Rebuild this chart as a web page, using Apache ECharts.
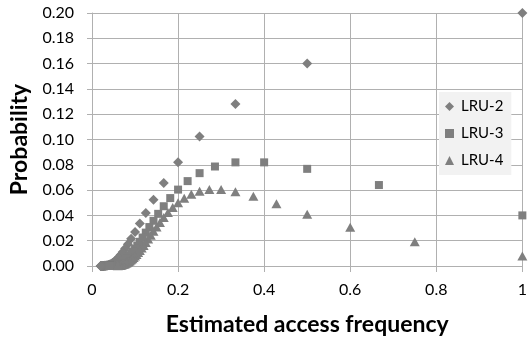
<!DOCTYPE html>
<html>
<head>
<meta charset="utf-8">
<script src="https://cdn.jsdelivr.net/npm/echarts@6/dist/echarts.min.js"></script>
<style>
html,body{margin:0;padding:0;background:#fff;}
#chart{width:530px;height:341px;}
</style>
</head>
<body>
<div id="chart"></div>
<script>
var seriesNames = ['LRU-2', 'LRU-3', 'LRU-4'];
var xTicks = ['0', '0.2', '0.4', '0.6', '0.8', '1'];
var yTicks = ['0.00','0.02','0.04','0.06','0.08','0.10','0.12','0.14','0.16','0.18','0.20'];

var lru2X = [1, 0.5, 0.3333, 0.25, 0.2, 0.1667, 0.1429, 0.125, 0.1111, 0.1,
  0.0909, 0.0833, 0.0769, 0.0714, 0.0667, 0.0625, 0.0588, 0.0556, 0.0526, 0.05,
  0.0476, 0.0455, 0.0435, 0.0417, 0.04, 0.0385, 0.037, 0.0357, 0.0345, 0.0333,
  0.0323, 0.0313, 0.0303, 0.0294, 0.0286, 0.0278, 0.027, 0.0263, 0.0256, 0.025,
  0.0244, 0.0238, 0.0233, 0.0227, 0.0222, 0.0217, 0.0213, 0.0208, 0.0204, 0.02];
var lru2Y = [0.2, 0.16, 0.128, 0.1024, 0.08192, 0.065536, 0.052429, 0.041943, 0.033554, 0.026844,
  0.021475, 0.01718, 0.013744, 0.010995, 0.008796, 0.007037, 0.005629, 0.004504, 0.003603, 0.002882,
  0.002306, 0.001845, 0.001476, 0.001181, 0.000944, 0.000756, 0.000604, 0.000484, 0.000387, 0.00031,
  0.000248, 0.000198, 0.000158, 0.000127, 0.000101, 0.000081, 0.000065, 0.000052, 0.000042, 0.000033,
  0.000027, 0.000021, 0.000017, 0.000014, 0.000011, 0.000009, 0.000007, 0.000006, 0.000005, 0.000004];

var lru3X = [1, 0.6667, 0.5, 0.4, 0.3333, 0.2857, 0.25, 0.2222, 0.2, 0.1818,
  0.1667, 0.1538, 0.1429, 0.1333, 0.125, 0.1176, 0.1111, 0.1053, 0.1, 0.0952,
  0.0909, 0.087, 0.0833, 0.08, 0.0769, 0.0741, 0.0714, 0.069, 0.0667, 0.0645,
  0.0625, 0.0606, 0.0588, 0.0571, 0.0556, 0.0541, 0.0526, 0.0513, 0.05, 0.0488,
  0.0476, 0.0465, 0.0455, 0.0444, 0.0435, 0.0426, 0.0417, 0.0408, 0.04];
var lru3Y = [0.04, 0.064, 0.0768, 0.08192, 0.08192, 0.078643, 0.0734, 0.067109, 0.060398, 0.053687,
  0.047245, 0.041232, 0.035734, 0.030786, 0.026388, 0.022518, 0.01914, 0.016213, 0.013691, 0.011529,
  0.009685, 0.008117, 0.006788, 0.005667, 0.004722, 0.003929, 0.003264, 0.002708, 0.002244, 0.001857,
  0.001535, 0.001268, 0.001046, 0.000862, 0.00071, 0.000584, 0.00048, 0.000395, 0.000324, 0.000266,
  0.000218, 0.000179, 0.000146, 0.00012, 0.000098, 0.00008, 0.000065, 0.000053, 0.000043];

var lru4X = [1, 0.75, 0.6, 0.5, 0.4286, 0.375, 0.3333, 0.3, 0.2727, 0.25,
  0.2308, 0.2143, 0.2, 0.1875, 0.1765, 0.1667, 0.1579, 0.15, 0.1429, 0.1364,
  0.1304, 0.125, 0.12, 0.1154, 0.1111, 0.1071, 0.1034, 0.1, 0.0968, 0.0938,
  0.0909, 0.0882, 0.0857, 0.0833, 0.0811, 0.0789, 0.0769, 0.075, 0.0732, 0.0714,
  0.0698, 0.0682, 0.0667, 0.0652, 0.0638, 0.0625, 0.0612, 0.06];
var lru4Y = [0.008, 0.0192, 0.03072, 0.04096, 0.049152, 0.05505, 0.05872, 0.060398, 0.060398, 0.059056,
  0.056694, 0.053601, 0.050028, 0.04618, 0.042221, 0.03828, 0.034452, 0.030805, 0.027382, 0.024212,
  0.021305, 0.018668, 0.016293, 0.014167, 0.012277, 0.010609, 0.009139, 0.007853, 0.006731, 0.005756,
  0.004912, 0.004182, 0.003556, 0.003017, 0.002556, 0.002161, 0.001825, 0.001539, 0.001296, 0.00109,
  0.000916, 0.000768, 0.000644, 0.00054, 0.000452, 0.000378, 0.000316, 0.000264];

function zip(xs, ys) {
  var out = [];
  for (var i = 0; i < xs.length; i++) out.push([xs[i], ys[i]]);
  return out;
}

var markerColor = '#7f7f7f';
var gridColor = '#b0b0b0';
var fontFam = 'Lato, "Open Sans", sans-serif';

var chart = echarts.init(document.getElementById('chart'), null, {renderer: 'canvas'});
chart.setOption({
  animation: false,
  backgroundColor: '#ffffff',
  grid: {left: 92, right: 2, top: 13, bottom: 74, containLabel: false},
  legend: {
    orient: 'vertical',
    left: 439,
    top: 92,
    backgroundColor: '#f2f2f2',
    padding: [7, 8, 7, 6],
    itemGap: 12,
    itemWidth: 9,
    itemHeight: 9,
    textStyle: {fontFamily: fontFam, fontSize: 15, color: '#000', padding: [0, 0, 0, 2]},
    data: [
      {name: seriesNames[0], icon: 'diamond'},
      {name: seriesNames[1], icon: 'rect'},
      {name: seriesNames[2], icon: 'triangle'}
    ]
  },
  xAxis: {
    type: 'value',
    min: 0, max: 1, interval: 0.2,
    name: 'Estimated access frequency',
    nameLocation: 'middle',
    nameGap: 47,
    nameTextStyle: {fontFamily: fontFam, fontSize: 23, fontWeight: 'bold', color: '#000'},
    axisLine: {show: true, lineStyle: {color: gridColor, width: 1}},
    axisTick: {show: true, inside: false, length: 6, lineStyle: {color: gridColor}},
    splitLine: {show: true, lineStyle: {color: gridColor, width: 1}},
    axisLabel: {
      margin: 16, fontFamily: fontFam, fontSize: 16, color: '#000',
      formatter: function (v) { return xTicks[Math.round(v / 0.2)]; }
    }
  },
  yAxis: {
    type: 'value',
    min: 0, max: 0.2, interval: 0.02,
    name: 'Probability',
    nameLocation: 'middle',
    nameRotate: 90,
    nameGap: 60,
    nameTextStyle: {fontFamily: fontFam, fontSize: 23, fontWeight: 'bold', color: '#000'},
    axisLine: {show: true, lineStyle: {color: gridColor, width: 1}},
    axisTick: {show: true, inside: false, length: 5, lineStyle: {color: gridColor}},
    splitLine: {show: true, lineStyle: {color: gridColor, width: 1}},
    axisLabel: {
      margin: 18, fontFamily: fontFam, fontSize: 16, color: '#000',
      formatter: function (v) { return yTicks[Math.round(v / 0.02)]; }
    }
  },
  series: [
    {name: seriesNames[0], type: 'scatter', symbol: 'diamond', symbolSize: 10,
     itemStyle: {color: markerColor, opacity: 1}, data: zip(lru2X, lru2Y), clip: true},
    {name: seriesNames[1], type: 'scatter', symbol: 'rect', symbolSize: 8,
     itemStyle: {color: markerColor, opacity: 1}, data: zip(lru3X, lru3Y), clip: true},
    {name: seriesNames[2], type: 'scatter', symbol: 'triangle', symbolSize: [10, 9],
     itemStyle: {color: markerColor, opacity: 1}, data: zip(lru4X, lru4Y), clip: true}
  ]
});
</script>
</body>
</html>
